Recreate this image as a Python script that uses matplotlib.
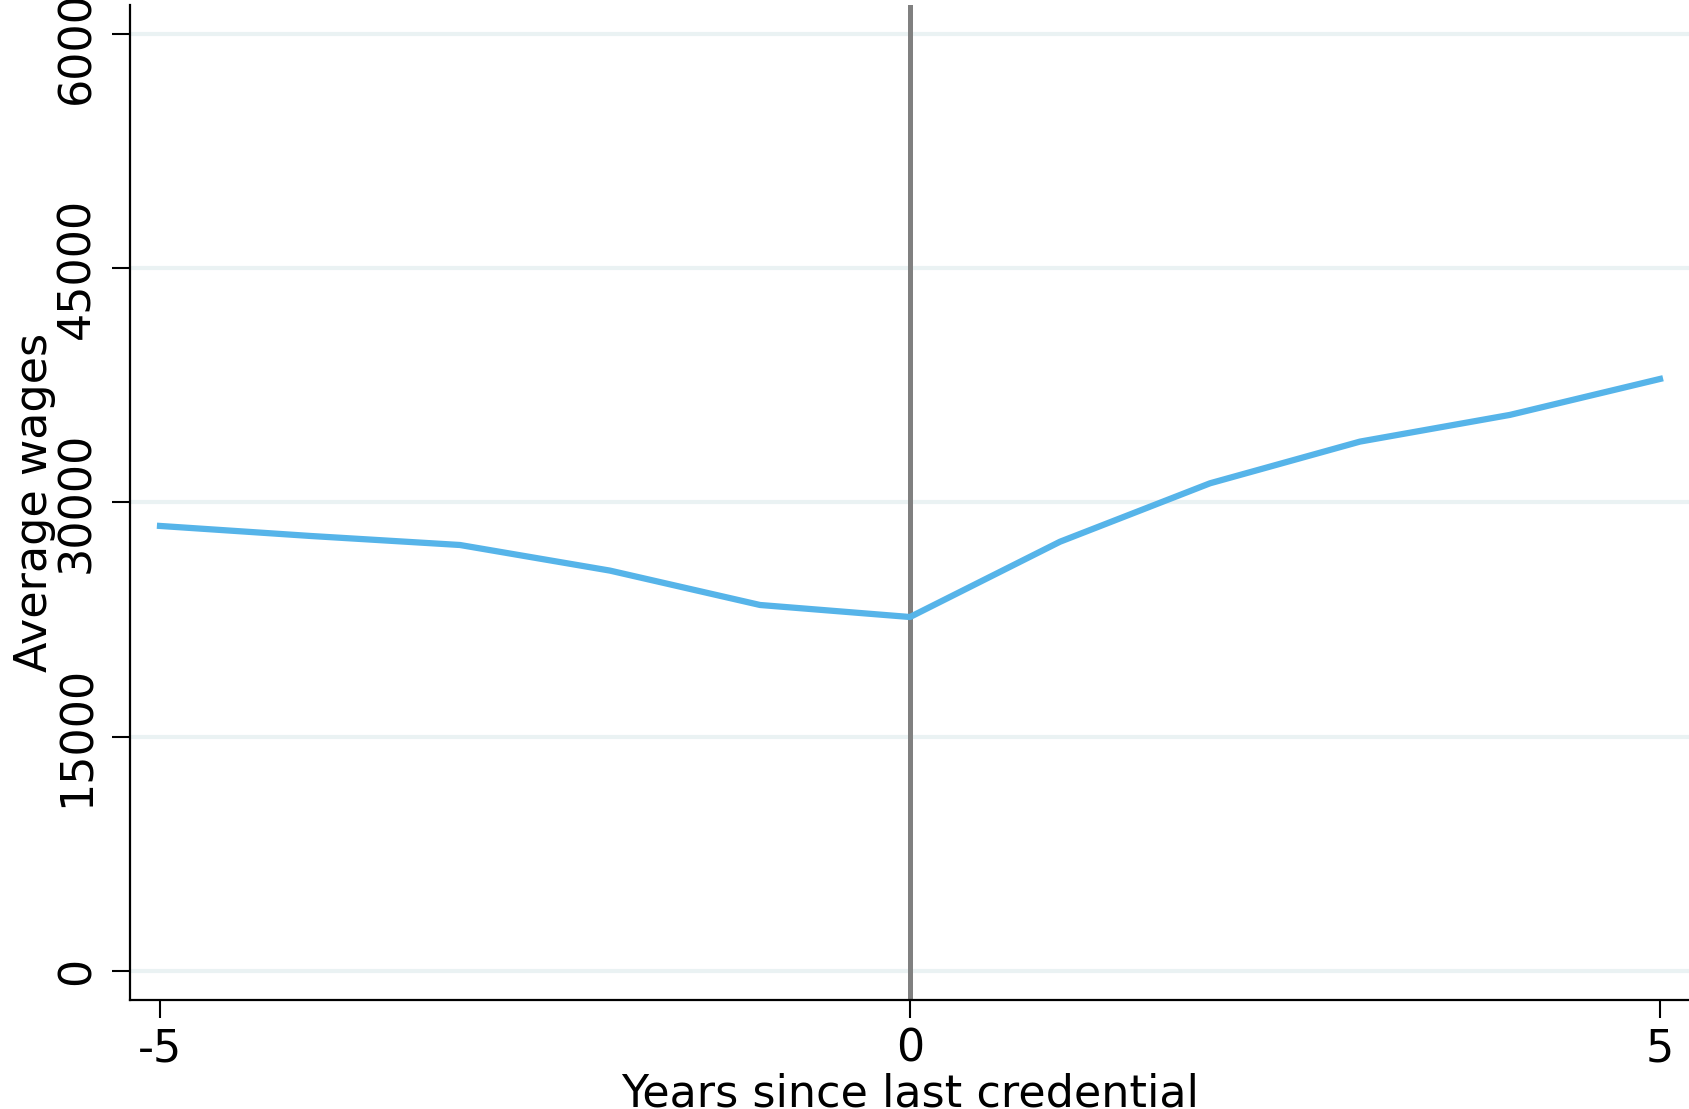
# Average wages around the last credential
import matplotlib
matplotlib.use("Agg")
import matplotlib.pyplot as plt

# Data
years = [-5, -4, -3, -2, -1, 0, 1, 2, 3, 4, 5]
wages = [28490, 27850, 27270, 25630, 23430, 22660, 27480, 31220, 33890, 35600, 37900]
y_ticks = [0, 15000, 30000, 45000, 60000]
x_ticks = [-5, 0, 5]

line_color = "#56B4E9"
grid_color = "#EAF2F3"

fig = plt.figure(figsize=(16.9, 11.09), dpi=100)
ax = fig.add_axes([0.0772, 0.0983, 0.9228, 0.8972])

ax.set_xlim(-5.197, 5.2)
ax.set_ylim(-1857, 61840)

# grid lines (horizontal only)
for t in y_ticks:
    ax.axhline(t, color=grid_color, linewidth=3, zorder=0)

ax.axvline(0, color="#808080", linewidth=3.6, zorder=2)
ax.plot(years, wages, color=line_color, linewidth=4.5, zorder=3)

ax.set_xticks(x_ticks)
ax.set_xticklabels([str(t) for t in x_ticks])
ax.set_yticks(y_ticks)
ax.set_yticklabels([str(t) for t in y_ticks], rotation=90, va="center")

ax.tick_params(axis="both", labelsize=32, length=13, width=1.5, direction="out", color="black")
ax.tick_params(axis="x", pad=7)
ax.tick_params(axis="y", pad=10)

for side in ["top", "right"]:
    ax.spines[side].set_visible(False)
for side in ["left", "bottom"]:
    ax.spines[side].set_linewidth(1.6)

ax.set_xlabel("Years since last credential", fontsize=32, labelpad=1)
ax.set_ylabel("Average wages", fontsize=32, labelpad=0)

fig.savefig("out.png", dpi=100)
